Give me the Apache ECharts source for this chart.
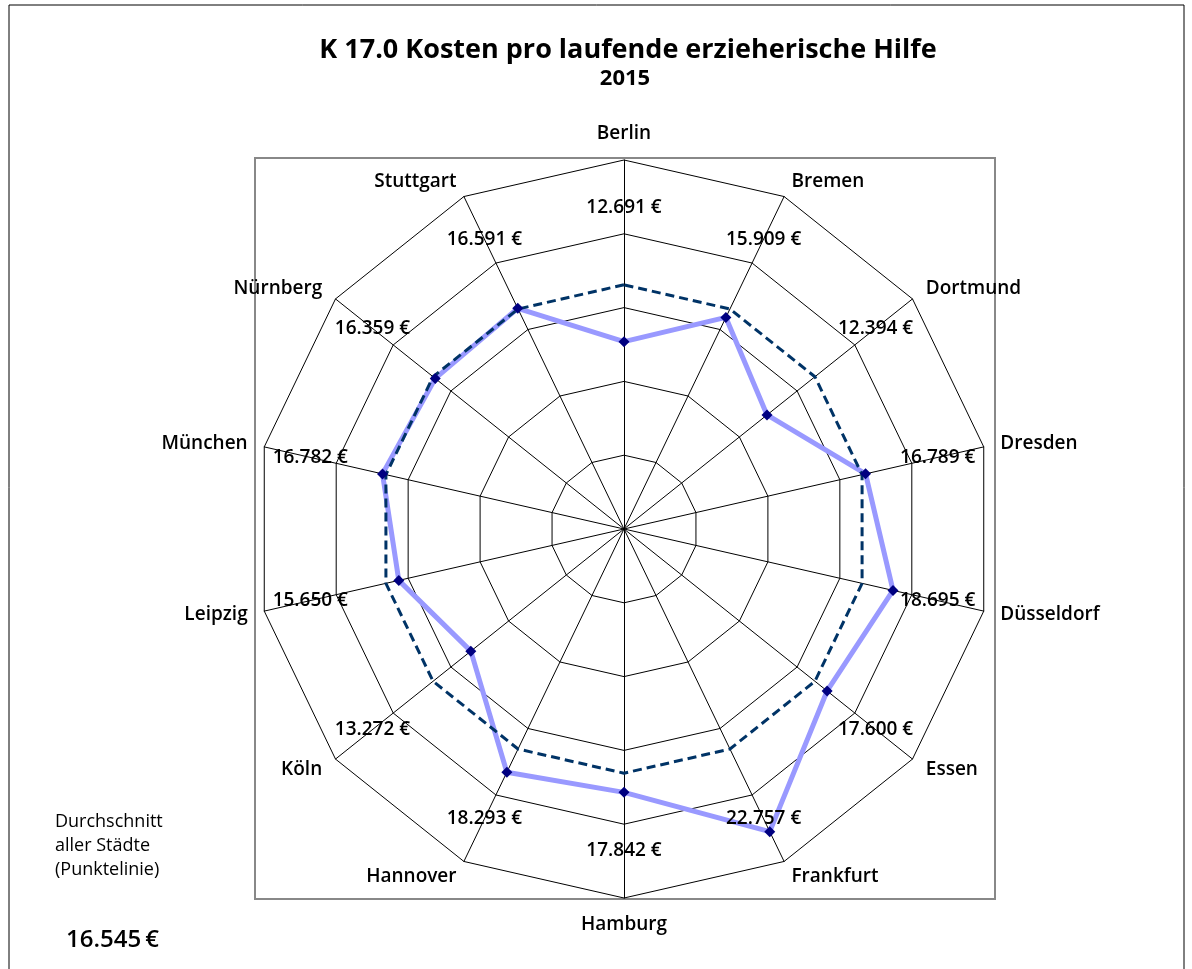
<!DOCTYPE html>
<html>
<head>
<meta charset="utf-8">
<script src="https://cdn.jsdelivr.net/npm/echarts@6/dist/echarts.min.js"></script>
<style>
  html, body { margin: 0; padding: 0; background: #fff; }
  #main { width: 1192px; height: 969px; }
</style>
</head>
<body>
<div id="main"></div>
<script>
const cities = ['Berlin', 'Bremen', 'Dortmund', 'Dresden', 'Düsseldorf', 'Essen', 'Frankfurt',
  'Hamburg', 'Hannover', 'Köln', 'Leipzig', 'München', 'Nürnberg', 'Stuttgart'];
const costs = [12691, 15909, 12394, 16789, 18695, 17600, 22757,
  17842, 18293, 13272, 15650, 16782, 16359, 16591];
const average = 16545;
const axisMax = 25000;
const titleText = 'K 17.0 Kosten pro laufende erzieherische Hilfe';
const yearText = '2015';
const noteLines = ['Durchschnitt', 'aller Städte', '(Punktelinie)'];

const FONT = '"Open Sans", "DejaVu Sans", sans-serif';
const CX = 624, CY = 529, R = 369;
const labelRadius = 21800; // where the value labels sit along each spoke

function euro(v, sep) {
  return String(v).replace(/\B(?=(\d{3})+(?!\d))/g, '.') + (sep || ' ') + '€';
}

// radar runs counter-clockwise, the picture runs clockwise from Berlin
const order = cities.map((c, i) => (cities.length - i) % cities.length);

const chart = echarts.init(document.getElementById('main'));

chart.setOption({
  animation: false,
  backgroundColor: '#fff',
  radar: {
    center: [CX, CY],
    radius: R,
    startAngle: 90,
    shape: 'polygon',
    splitNumber: 5,
    nameGap: 17,
    indicator: order.map(i => ({ name: cities[i], min: 0, max: axisMax })),
    axisName: { color: '#000', fontSize: 19, fontWeight: 600, fontFamily: FONT },
    axisLine: { lineStyle: { color: '#000', width: 1 } },
    splitLine: { lineStyle: { color: '#000', width: 1 } },
    splitArea: { show: false },
    axisTick: { show: false },
    axisLabel: { show: false }
  },
  polar: { center: [CX, CY], radius: R },
  angleAxis: { type: 'value', min: 0, max: cities.length, startAngle: 90, clockwise: true, show: false },
  radiusAxis: { type: 'value', min: 0, max: axisMax, show: false },
  series: [
    {
      type: 'radar',
      z: 2,
      symbol: 'none',
      lineStyle: { color: '#9999FF', width: 5 },
      data: [{ value: order.map(i => costs[i]) }]
    },
    {
      type: 'radar',
      z: 3,
      symbol: 'none',
      lineStyle: { color: '#003366', width: 3, type: [9, 5] },
      data: [{ value: order.map(() => average) }]
    },
    {
      type: 'radar',
      z: 4,
      symbol: 'diamond',
      symbolSize: 11,
      itemStyle: { color: '#000080' },
      lineStyle: { width: 0, opacity: 0 },
      data: [{ value: order.map(i => costs[i]) }]
    },
    {
      type: 'scatter',
      coordinateSystem: 'polar',
      silent: true,
      symbolSize: 1,
      itemStyle: { color: 'transparent' },
      z: 5,
      data: costs.map((v, i) => [labelRadius, i]),
      label: {
        show: true,
        position: 'inside',
        formatter: p => euro(costs[p.dataIndex]),
        color: '#000',
        opacity: 1,
        textBorderWidth: 0,
        fontSize: 19,
        fontWeight: 600,
        fontFamily: FONT
      }
    }
  ],
  graphic: [
    { type: 'rect', z: 0, shape: { x: 9, y: 5, width: 1175, height: 1000 },
      style: { fill: null, stroke: '#000', lineWidth: 1 } },
    { type: 'rect', z: 0, shape: { x: 255, y: 158, width: 740, height: 741 },
      style: { fill: null, stroke: '#888', lineWidth: 2 } },
    { type: 'text', x: 628, y: 50,
      style: { text: titleText, align: 'center', verticalAlign: 'middle', fill: '#000',
        font: 'bold 27px ' + FONT } },
    { type: 'text', x: 625, y: 79,
      style: { text: yearText, align: 'center', verticalAlign: 'middle', fill: '#000',
        font: 'bold 22px ' + FONT } },
    { type: 'text', x: 55, y: 810,
      style: { text: noteLines.join('\n'), align: 'left', verticalAlign: 'top', fill: '#000',
        lineHeight: 24, font: '18px ' + FONT } },
    { type: 'text', x: 66, y: 940,
      style: { text: euro(average, '\u2009'), align: 'left', verticalAlign: 'middle', fill: '#000',
        font: '600 24px ' + FONT } }
  ]
});
</script>
</body>
</html>
